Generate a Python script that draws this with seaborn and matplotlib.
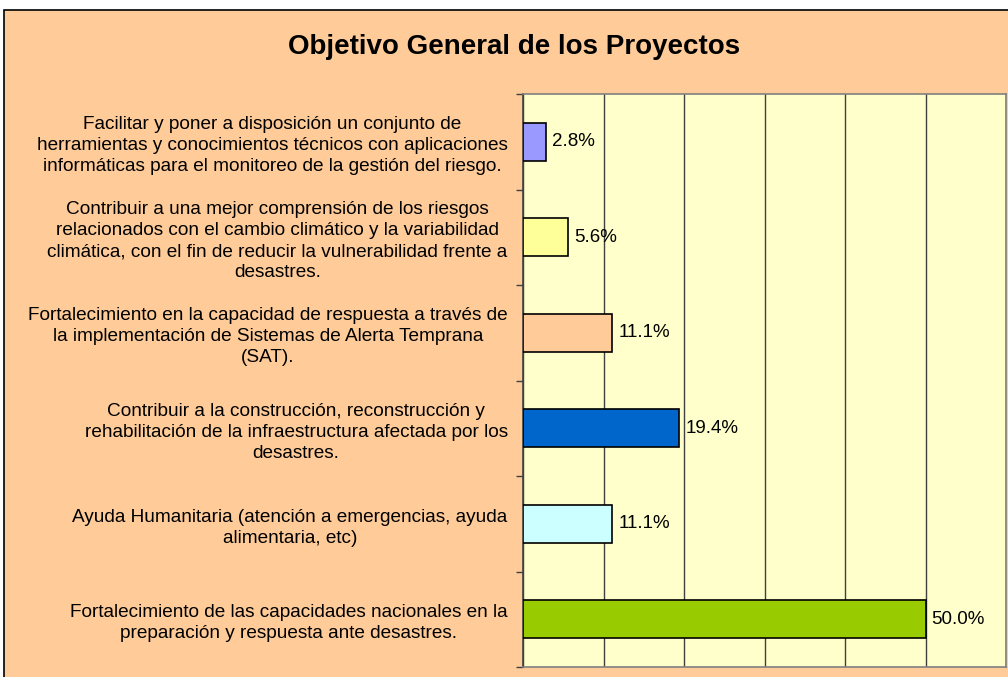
import matplotlib
matplotlib.use("Agg")
import matplotlib.pyplot as plt
import seaborn as sns
import pandas as pd
from matplotlib.patches import Rectangle
from matplotlib.ticker import FixedLocator, MultipleLocator, NullFormatter

categories = [
    "Facilitar y poner a disposición un conjunto de\nherramientas y conocimientos técnicos con aplicaciones\ninformáticas para el monitoreo de la gestión del riesgo.",
    "Contribuir a una mejor comprensión de los riesgos\nrelacionados con el cambio climático y la variabilidad\nclimática, con el fin de reducir la vulnerabilidad frente a\ndesastres.",
    "Fortalecimiento en la capacidad de respuesta a través de\nla implementación de Sistemas de Alerta Temprana\n(SAT).",
    "Contribuir a la construcción, reconstrucción y\nrehabilitación de la infraestructura afectada por los\ndesastres.",
    "Ayuda Humanitaria (atención a emergencias, ayuda\nalimentaria, etc)",
    "Fortalecimiento de las capacidades nacionales en la\npreparación y respuesta ante desastres.",
]
values = [2.8, 5.6, 11.1, 19.4, 11.1, 50.0]
value_labels = ["2.8%", "5.6%", "11.1%", "19.4%", "11.1%", "50.0%"]
colors = ["#9999FF", "#FFFF99", "#FFCC99", "#0066CC", "#CCFFFF", "#99CC00"]
title = "Objetivo General de los Proyectos"

sns.set_theme(style="white")
plt.rcParams["font.family"] = ["Liberation Sans", "DejaVu Sans"]

W, H = 1008, 677
fig = plt.figure(figsize=(W / 100, H / 100), dpi=100, facecolor="white")
bg = Rectangle((4 / W, -0.01), 1.0, 1 - 10 / H + 0.01, transform=fig.transFigure,
               facecolor="#FFCC99", edgecolor="black", linewidth=1.2, zorder=-10)
fig.patches.append(bg)

left, right, top, bottom = 523, 1006, 94, 667
ax = fig.add_axes([left / W, 1 - bottom / H, (right - left) / W, (bottom - top) / H])
ax.set_zorder(1)
ax.set_facecolor("#FFFFCC")

df = pd.DataFrame({"cat": categories, "val": values})
sns.barplot(data=df, y="cat", x="val", hue="cat", palette=colors, legend=False,
            orient="h", width=0.4, saturation=1, edgecolor="black", linewidth=1.2,
            ax=ax, zorder=3)

ax.set_xlim(0, 60)
ax.set_ylim(len(categories) - 0.5, -0.5)
ax.xaxis.set_major_locator(MultipleLocator(10))
ax.set_xticklabels([])
ax.tick_params(axis="x", length=0)
ax.grid(axis="x", color="#404040", linewidth=1.0, zorder=1)
ax.grid(axis="y", visible=False)
ax.set_axisbelow(True)

ax.tick_params(axis="y", which="major", length=0, pad=11, labelsize=13.7, colors="black")
for lab in ax.get_yticklabels():
    lab.set_multialignment("center")
    lab.set_linespacing(1.3)
ax.yaxis.set_minor_locator(FixedLocator([i - 0.5 for i in range(len(categories) + 1)]))
ax.yaxis.set_minor_formatter(NullFormatter())
ax.tick_params(axis="y", which="minor", left=True, length=5, width=1, color="#404040")
ax.set_xlabel("")
ax.set_ylabel("")

for s in ["top", "right", "bottom"]:
    ax.spines[s].set_color("#808080")
    ax.spines[s].set_linewidth(1.2)
ax.spines["left"].set_color("#404040")
ax.spines["left"].set_linewidth(1.2)

for i, (v, t) in enumerate(zip(values, value_labels)):
    ax.text(v + 0.75, i, t, va="center", ha="left", fontsize=13.5, color="black", zorder=4)

fig.text(514 / W, 1 - 47 / H, title, ha="center", va="center", fontsize=20,
         fontweight="bold", color="black")

fig.savefig("out.png", dpi=100, facecolor="white")
